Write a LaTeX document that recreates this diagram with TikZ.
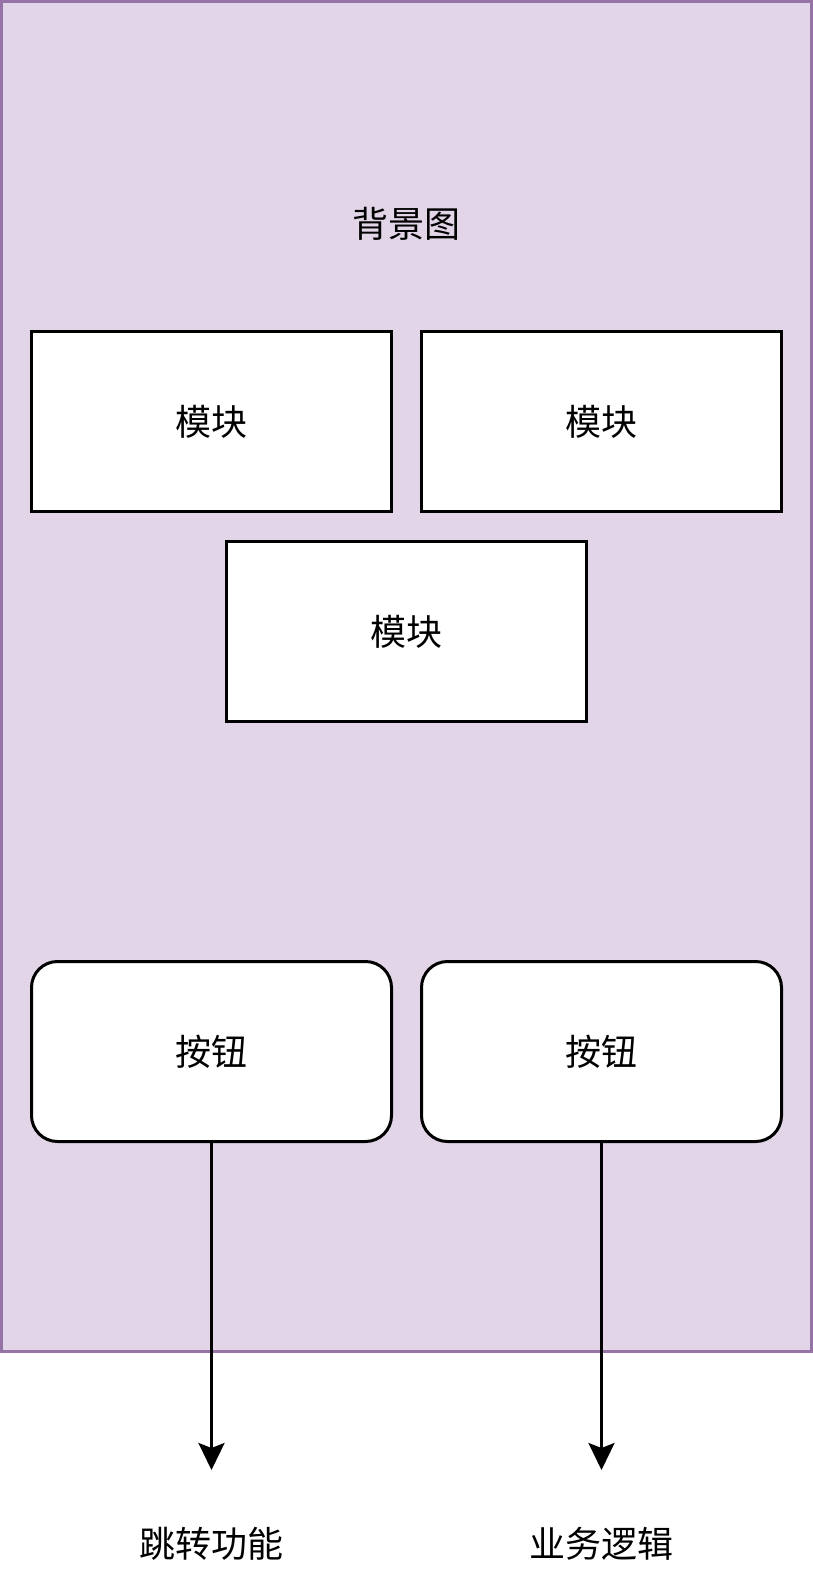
\documentclass[tikz,border=0pt]{standalone}
\usepackage{fontspec}
\setmainfont{Noto Sans CJK SC}
\usetikzlibrary{arrows.meta}

\definecolor{bgfill}{HTML}{E1D5E7}
\definecolor{bgline}{HTML}{9673A6}

\begin{document}
\begin{tikzpicture}[x=1pt, y=-1pt,
    every node/.style={font=\fontsize{36}{40}\selectfont},
    modbox/.style={draw=black, fill=white, line width=3pt, minimum width=360pt, minimum height=180pt, inner sep=0pt},
    btnbox/.style={modbox, rounded corners=26pt},
    flow/.style={line width=3pt, -{Stealth[length=27pt, width=26pt, inset=5pt]}}]
            \useasboundingbox (0,0) rectangle (813,1593);

            % Background
            \node[draw=bgline, fill=bgfill, line width=3pt, minimum width=810pt, minimum height=1350pt, inner sep=0pt] (bg) at (406.5,676.5) {};
            \node (bgtext) at (406.5,224) {背景图};

            % Modules
            \node[modbox] (mod1) at (211.5,421.5) {模块};
            \node[modbox] (mod2) at (601.5,421.5) {模块};
            \node[modbox] (mod3) at (406.5,631.5) {模块};

            % Buttons
            \node[btnbox] (btn1) at (211.5,1051.5) {按钮};
            \node[btnbox] (btn2) at (601.5,1051.5) {按钮};

            % Arrows
            \coordinate (end1) at (211.5,1470);
            \coordinate (end2) at (601.5,1470);
            \draw[flow] (btn1.south) -- (end1);
            \draw[flow] (btn2.south) -- (end2);

            % Results
            \node (res1) at (211.5,1544) {跳转功能};
            \node (res2) at (601.5,1544) {业务逻辑};
\end{tikzpicture}
\end{document}
